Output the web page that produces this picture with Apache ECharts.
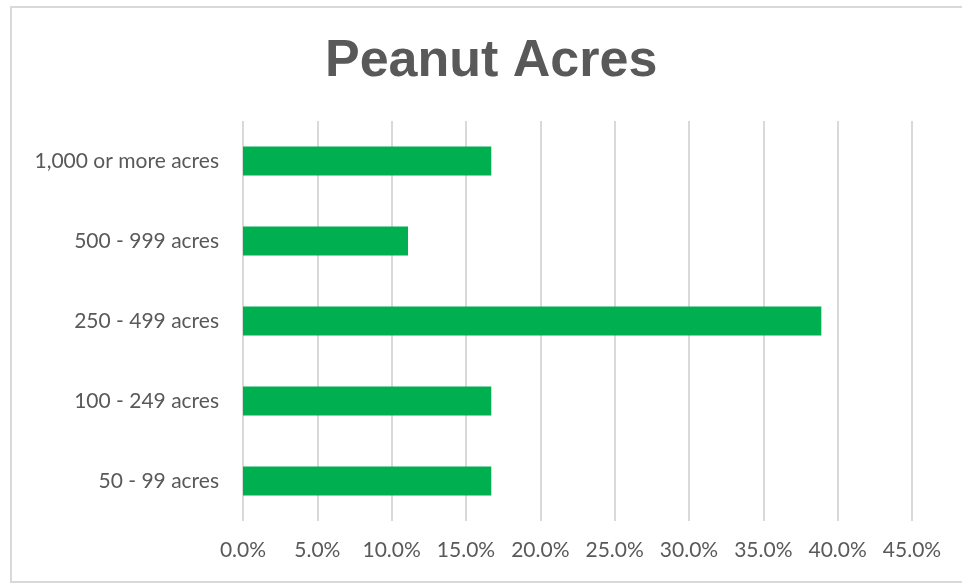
<!DOCTYPE html>
<html>
<head>
<meta charset="utf-8">
<script src="https://cdn.jsdelivr.net/npm/echarts@6/dist/echarts.min.js"></script>
<style>
html,body{margin:0;padding:0;background:#fff;}
#chart{width:962px;height:583px;}
</style>
</head>
<body>
<div id="chart"></div>
<script>
const titleText = "Peanut Acres";
const categories = ["50 - 99 acres", "100 - 249 acres", "250 - 499 acres", "500 - 999 acres", "1,000 or more acres"];
const shares = [16.7, 16.7, 38.9, 11.1, 16.7];
const axisMin = 0, axisMax = 45, axisStep = 5;

const chart = echarts.init(document.getElementById('chart'), null, {renderer: 'canvas'});
chart.setOption({
  animation: false,
  backgroundColor: '#ffffff',
  graphic: [{
    type: 'rect',
    shape: {x: 11, y: 7, width: 970, height: 575},
    style: {fill: 'none', stroke: '#d9d9d9', lineWidth: 2},
    silent: true
  }],
  title: {
    text: titleText,
    left: 320,
    top: 31,
    textStyle: {fontFamily: 'Liberation Sans', fontWeight: 'bold', fontSize: 52, color: '#595959'}
  },
  grid: {left: 243, right: 50, top: 121, bottom: 62, containLabel: false},
  xAxis: {
    type: 'value',
    min: axisMin, max: axisMax, interval: axisStep,
    axisLine: {show: false},
    axisTick: {show: false},
    splitLine: {show: true, lineStyle: {color: '#d9d9d9', width: 2}},
    axisLabel: {
      formatter: v => v.toFixed(1) + '%',
      fontFamily: 'Lato', fontSize: 21, color: '#595959', margin: 19
    }
  },
  yAxis: {
    type: 'category',
    data: categories,
    axisLine: {show: false},
    axisTick: {show: false},
    axisLabel: {fontFamily: 'Lato', fontSize: 21, color: '#595959', margin: 24}
  },
  series: [{
    type: 'bar',
    data: shares,
    barWidth: 29,
    itemStyle: {color: '#00b050'}
  }]
});
</script>
</body>
</html>
